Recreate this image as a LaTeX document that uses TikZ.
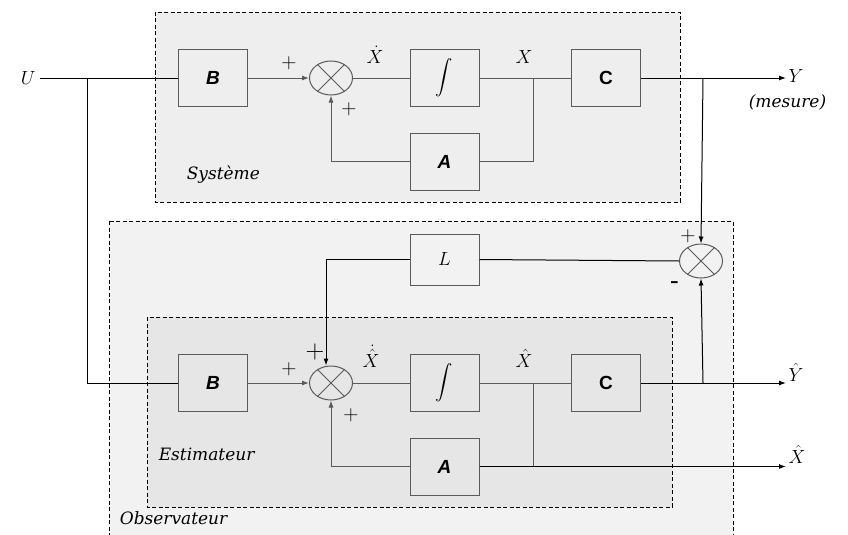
\RequirePackage{fix-cm}
\documentclass[tikz,border=0pt]{standalone}
\usepackage{amsmath}
\usepackage{fontspec}
\newfontfamily\lblfont{DejaVu Serif}
\newfontfamily\blkfont{Liberation Sans}
\usetikzlibrary{shapes.geometric,arrows.meta}
\definecolor{sysbg}{HTML}{EEEEEE}
\definecolor{obsbg}{HTML}{F2F2F2}
\definecolor{estbg}{HTML}{E6E6E6}
\definecolor{wire}{HTML}{5A5A5A}

\begin{document}
\begin{tikzpicture}[x=1pt,y=-1pt,line width=1pt,
  blk/.style={draw=wire,minimum width=69pt,minimum height=57pt,inner sep=0pt},
  summer/.style={draw=wire,ellipse,minimum width=43pt,minimum height=34pt,inner sep=0pt},
  region/.style={draw=black,line width=0.8pt,dash pattern=on 4pt off 2.5pt},
  arr/.style={-{Latex[length=7pt,width=5pt]}},
  sym/.style={font=\fontsize{19}{22}\selectfont,inner sep=1pt},
  sign/.style={font=\fontsize{21}{24}\selectfont,inner sep=1pt},
  txt/.style={font=\lblfont\itshape\fontsize{17}{20}\selectfont,anchor=west},
  bold/.style={font=\blkfont\bfseries\fontsize{19}{22}\selectfont}]
\useasboundingbox (0,0) rectangle (848,535);

% regions
\draw[region,fill=sysbg] (155,12) rectangle (680,202);
\draw[region,fill=obsbg] (109,221) rectangle (733,545);
\draw[region,fill=estbg] (147,317) rectangle (672,507);
\node[txt] (tsys) at (183,175) {Système};
\node[txt] (test) at (155,454) {Estimateur};
\node[txt] (tobs) at (116,518) {Observateur};

% systeme
\node[blk,bold] (B1) at (213,78) {\itshape B};
\node[summer] (s1) at (331,78) {};
\node[blk,font=\fontsize{16}{20}\selectfont] (I1) at (444.5,78) {$\displaystyle\int$};
\node[blk,bold] (C1) at (606,78) {C};
\node[blk,bold] (A1) at (444.5,161.5) {\itshape A};

% observateur
\node[blk,sym] (L) at (444.5,259.5) [minimum height=51pt] {$L$};
\node[summer] (s3) at (701,261) {};

% estimateur
\node[blk,bold] (B2) at (213,383) {\itshape B};
\node[summer] (s2) at (331,383) {};
\node[blk,font=\fontsize{16}{20}\selectfont] (I2) at (444.5,383) {$\displaystyle\int$};
\node[blk,bold] (C2) at (606,383) {C};
\node[blk,bold] (A2) at (444.5,466.5) {\itshape A};

\foreach \s in {s1,s2,s3}
  \draw[wire] (\s.45) -- (\s.225) (\s.135) -- (\s.315);

% entree et sorties
\node[sym,anchor=east] (U) at (37,78) {$U$};
\node[sym,anchor=west] (Y) at (787,76) {$Y$};
\node[txt] (mes) at (745,102) {(mesure)};
\node[sym,anchor=west] (Yh) at (787,372) {$\hat{Y}$};
\node[sym,anchor=west] (Xh) at (787,454) {$\hat{X}$};
\coordinate (jU) at (87,78);
\coordinate (jX) at (533,78);
\coordinate (jY) at (703,78);
\coordinate (jXh) at (533,383);
\coordinate (jYh) at (703,383);

% connexions systeme
\draw ([xshift=3pt]U.east) -- (B1.west);
\draw[wire,arr] (B1.east) -- (s1.west);
\draw[wire] (s1.east) -- (I1.west);
\draw[wire] (I1.east) -- (C1.west);
\draw[wire] (jX) |- (A1.east);
\draw[wire,arr] (A1.west) -| (s1.south);
\draw[arr] (C1.east) -- (786,78);
\draw[arr] (jY) -- (s3.north);

% connexions observateur
\draw (jU) |- (B2.west);
\draw (s3.west) -- (L.east);
\draw[arr] (L.west) -| ([xshift=-5pt]s2.north);
\draw[wire,arr] (B2.east) -- (s2.west);
\draw[wire] (s2.east) -- (I2.west);
\draw[wire] (I2.east) -- (C2.west);
\draw[wire] (jXh) -- (jXh |- A2.east);
\draw[arr] (A2.east) -- (786,466.5);
\draw[wire,arr] (A2.west) -| (s2.south);
\draw[arr] (C2.east) -- (786,383);
\draw[arr] (jYh) -- (s3.south);

% signes et signaux
\node[sign] (p1) at (289,63) {$+$};
\node[sign] (p2) at (349,109) {$+$};
\node[sign] (p3) at (289,369) {$+$};
\node[sign] (p4) at (351,415) {$+$};
\node[font=\fontsize{26}{28}\selectfont,inner sep=1pt] (p5) at (315,352) {$+$};
\node[sign] (p6) at (688,236) {$+$};
\node[font=\bfseries\fontsize{22}{24}\selectfont,inner sep=1pt] (m6) at (675,285) {-};
\node[sym] (dX) at (375,55) {$\dot{X}$};
\node[sym] (X) at (524,57) {$X$};
\node[sym] (dXh) at (371,356) {$\dot{\hat{X}}$};
\node[sym] (Xh2) at (524,358) {$\hat{X}$};
\end{tikzpicture}
\end{document}
